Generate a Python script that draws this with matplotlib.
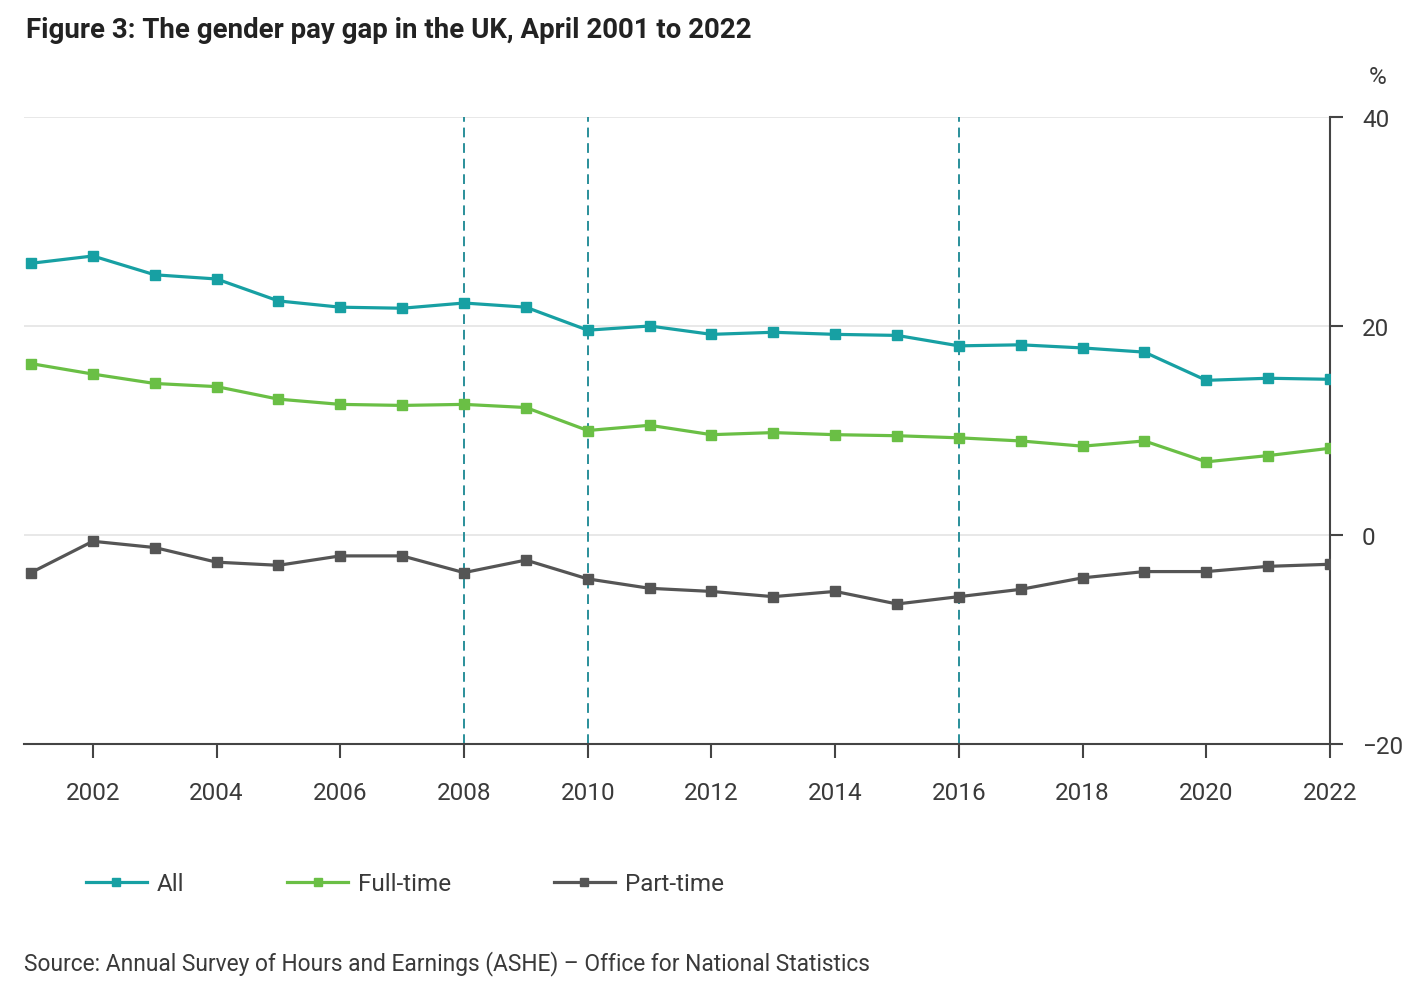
import matplotlib
matplotlib.use("Agg")
import matplotlib.pyplot as plt

plt.rcParams['font.family'] = ['Roboto', 'DejaVu Sans']

years = list(range(2001, 2023))
all_gap = [26.0, 26.7, 24.9, 24.5, 22.4, 21.8, 21.7, 22.2, 21.8, 19.6, 20.0,
           19.2, 19.4, 19.2, 19.1, 18.1, 18.2, 17.9, 17.5, 14.8, 15.0, 14.9]
full_time = [16.4, 15.4, 14.5, 14.2, 13.0, 12.5, 12.4, 12.5, 12.2, 10.0, 10.5,
             9.6, 9.8, 9.6, 9.5, 9.3, 9.0, 8.5, 9.0, 7.0, 7.6, 8.3]
part_time = [-3.6, -0.6, -1.2, -2.6, -2.9, -2.0, -2.0, -3.6, -2.4, -4.2, -5.1,
             -5.4, -5.9, -5.4, -6.6, -5.9, -5.2, -4.1, -3.5, -3.5, -3.0, -2.8]
event_years = [2008, 2010, 2016]
x_ticks = list(range(2002, 2023, 2))
y_ticks = [-20, 0, 20, 40]

series = [("All", all_gap, "#17a0a3"),
          ("Full-time", full_time, "#6abf45"),
          ("Part-time", part_time, "#555555")]

W, H = 1415, 995
fig = plt.figure(figsize=(W / 100, H / 100), dpi=100)
ax = fig.add_axes([24 / W, 1 - 745 / H, (1330 - 24) / W, (745 - 118) / H])

for yv in [0, 20, 40]:
    ax.axhline(yv, color="#e6e6e6", lw=1.3, zorder=0)
for ey in event_years:
    ax.axvline(ey, color="#2a8f9a", lw=1.4, ls=(0, (5, 3)), zorder=1)

for name, vals, col in series:
    ax.plot(years, vals, color=col, lw=2.3, marker="s", markersize=7,
            label=name, zorder=3)

ax.set_xlim(2001 - 7 / 61.86, 2022)
ax.set_ylim(-20, 40)
ax.set_xticks(x_ticks)
ax.set_xticklabels([str(v) for v in x_ticks])
ax.set_yticks(y_ticks)
ax.set_yticklabels([str(v).replace("-", "\u2212") for v in y_ticks])
ax.yaxis.tick_right()

for s in ["top", "left"]:
    ax.spines[s].set_visible(False)
for s in ["bottom", "right"]:
    ax.spines[s].set_color("#444444")
    ax.spines[s].set_linewidth(1.5)

ax.tick_params(axis="x", direction="out", length=10, width=1.5, color="#444444",
               pad=17, labelsize=17.5, labelcolor="#3a3a3a")
ax.tick_params(axis="y", direction="out", length=9, width=1.5, color="#444444",
               pad=14, labelsize=17.5, labelcolor="#3a3a3a")

fig.text(26 / W, 1 - 30 / H, "Figure 3: The gender pay gap in the UK, April 2001 to 2022",
         fontsize=19.9, fontweight="bold", color="#222222", va="center", ha="left")
fig.text(1378 / W, 1 - 78 / H, "%", fontsize=17.5,
         color="#3a3a3a", va="center", ha="center")
fig.text(24 / W, 1 - 964 / H,
         "Source: Annual Survey of Hours and Earnings (ASHE) \u2013 Office for National Statistics",
         fontsize=16.4, color="#3a3a3a", va="center", ha="left")

leg = fig.legend(loc="center left", bbox_to_anchor=(64 / W, 1 - 885 / H), ncol=3,
                 frameon=False, prop={"size": 17.5},
                 handlelength=2.5, handletextpad=0.4,
                 columnspacing=4.25, markerscale=0.75)
for t in leg.get_texts():
    t.set_color("#3a3a3a")

fig.savefig("out.png", dpi=100, facecolor="white")
